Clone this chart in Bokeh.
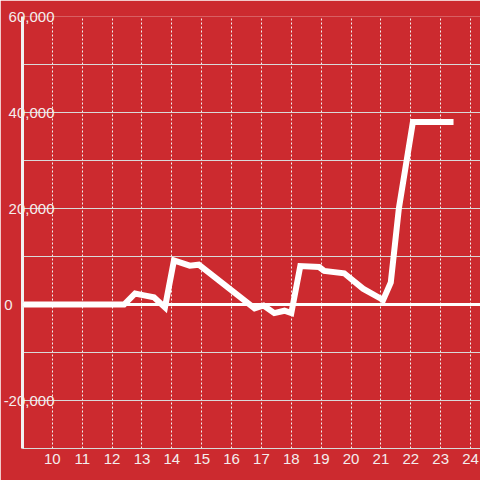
from bokeh.plotting import figure
from bokeh.models import FixedTicker, Span, Range1d, LinearAxis
from bokeh.embed import file_html
from bokeh.resources import INLINE

# data (hour of day, value)
hours = [9.0, 12.4, 12.77, 13.07, 13.4, 13.77, 14.07, 14.6, 14.9, 16.77, 17.07,
         17.43, 17.77, 18.0, 18.3, 18.93, 19.1, 19.77, 20.4, 21.0, 21.07, 21.33,
         21.6, 22.07, 23.43]
values = [0, 0, 2300, 1900, 1500, -600, 9200, 8100, 8300, -800, -200,
          -1800, -1300, -1800, 8000, 7800, 7000, 6500, 3300, 1200, 900, 4600,
          20000, 38000, 38000]

x_ticks = list(range(10, 25))
y_major = [-20000, 0, 20000, 40000, 60000]
y_minor = [-10000, 10000, 30000, 50000]
y_labels = ["-20,000", "0", "20,000", "40,000", "60,000"]

X_START, X_END = 9, 24.333
BG = "#cc2a2f"
TXT = "#f4eded"
FONT = "Liberation Sans"

p = figure(width=480, height=480, output_backend="svg", toolbar_location=None,
           x_range=Range1d(X_START, X_END), y_range=Range1d(-30000, 60000),
           min_border_left=20, min_border_right=0, min_border_top=16,
           min_border_bottom=32, background_fill_color=BG,
           border_fill_color=BG, outline_line_color=None)

overrides = {t: s for t, s in zip(y_major, y_labels)}
nonzero = [t for t in y_major if t != 0]
zero = [t for t in y_major if t == 0]

p.xaxis.ticker = FixedTicker(ticks=x_ticks)
p.yaxis.ticker = FixedTicker(ticks=nonzero)
p.yaxis.major_label_overrides = {t: overrides[t] for t in nonzero}
p.ygrid.ticker = FixedTicker(ticks=y_major, minor_ticks=y_minor)

p.xgrid.grid_line_color = "#f2f2f2"
p.xgrid.grid_line_dash = "2 2"
p.xgrid.grid_line_width = 1
p.ygrid.grid_line_color = "#d9d9d9"
p.ygrid.grid_line_width = 1
p.ygrid.minor_grid_line_color = "#d9d9d9"
p.ygrid.minor_grid_line_width = 1

p.yaxis.axis_line_color = "#f2f2f2"
p.yaxis.axis_line_width = 3
p.yaxis.major_tick_line_color = None
p.yaxis.minor_tick_line_color = None
p.yaxis.major_tick_out = 0
p.yaxis.minor_tick_out = 0
p.yaxis.major_label_standoff = -32
p.yaxis.major_label_text_font = FONT
p.yaxis.major_label_text_font_size = "15px"
p.yaxis.major_label_text_color = TXT

zero_axis = LinearAxis(ticker=FixedTicker(ticks=zero),
                       major_label_overrides={t: overrides[t] for t in zero},
                       axis_line_color=None, major_tick_line_color=None,
                       minor_tick_line_color=None, major_tick_out=0,
                       minor_tick_out=0, major_label_standoff=-12,
                       major_label_text_font=FONT,
                       major_label_text_font_size="15px",
                       major_label_text_color=TXT)
p.add_layout(zero_axis, "left")

p.xaxis.axis_line_color = "#d9d9d9"
p.xaxis.axis_line_width = 1
p.xaxis.major_tick_line_color = None
p.xaxis.minor_tick_line_color = None
p.xaxis.major_tick_out = 0
p.xaxis.major_label_text_font = FONT
p.xaxis.major_label_text_font_size = "15px"
p.xaxis.major_label_text_color = TXT
p.xaxis.major_label_standoff = 5

p.add_layout(Span(location=0, dimension="width", line_color="white", line_width=3))

p.line(hours, values, line_color="white", line_width=6, line_join="miter")

open("out.html", "w").write(file_html(p, INLINE))
